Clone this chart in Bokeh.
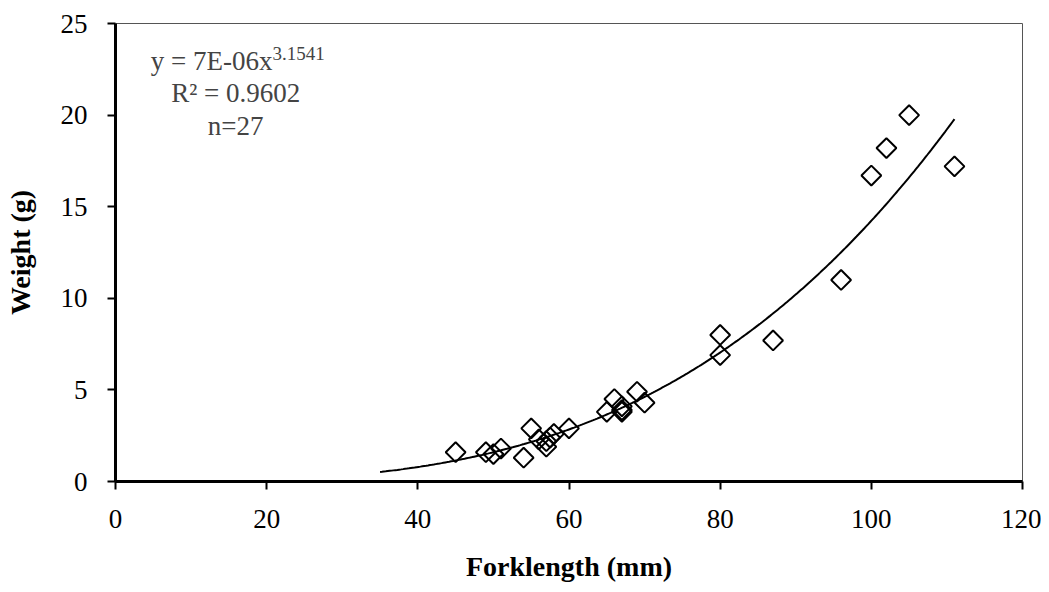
import math
from bokeh.plotting import figure
from bokeh.models import Range1d, Label, FixedTicker
from bokeh.embed import file_html
from bokeh.resources import INLINE

# Data
forklength = [45, 49, 50, 51, 54, 55, 56, 57, 57, 57.5, 58, 60,
              65, 66, 67, 67, 67, 69, 70, 80, 80, 87, 96, 100, 102, 105, 111]
weight = [1.6, 1.6, 1.5, 1.8, 1.3, 2.9, 2.3, 1.9, 2.2, 2.4, 2.6, 2.9,
          3.8, 4.5, 4.1, 3.9, 3.8, 4.9, 4.3, 8.0, 6.9, 7.7, 11.0, 16.7, 18.2, 20.0, 17.2]

# Power trendline shown on the chart: y = 7E-06 x^3.1541
trend_a = 7e-06
trend_b = 3.1541
trend_x_start = 35
trend_x_end = 111

x_ticks = [0, 20, 40, 60, 80, 100, 120]
y_ticks = [0, 5, 10, 15, 20, 25]

FONT = "Liberation Serif"

p = figure(width=1041, height=584, output_backend="svg", toolbar_location=None,
           x_range=Range1d(0, 120), y_range=Range1d(0, 25),
           min_border_left=115, min_border_right=19,
           min_border_top=23, min_border_bottom=103)

p.xgrid.visible = False
p.ygrid.visible = False
p.outline_line_color = "#555555"
p.outline_line_width = 1

# trendline
n = 300
tx = [trend_x_start + (trend_x_end - trend_x_start) * i / (n - 1) for i in range(n)]
ty = [trend_a * v ** trend_b for v in tx]
p.line(tx, ty, line_color="black", line_width=2)

# points
p.scatter(forklength, weight, marker="square", angle=math.pi / 4, size=14,
          fill_color=None, line_color="black", line_width=2)

for ax in (p.xaxis[0], p.yaxis[0]):
    ax.axis_line_width = 3
    ax.axis_line_color = "black"
    ax.major_tick_line_color = "black"
    ax.major_tick_line_width = 2
    ax.major_tick_out = 8
    ax.major_tick_in = 0
    ax.minor_tick_line_color = None
    ax.major_label_text_font = FONT
    ax.major_label_text_font_size = "27px"
    ax.major_label_text_color = "black"
    ax.axis_label_text_font = FONT
    ax.axis_label_text_font_size = "28px"
    ax.axis_label_text_font_style = "bold"
    ax.axis_label_text_color = "black"

p.xaxis.ticker = FixedTicker(ticks=x_ticks)
p.yaxis.ticker = FixedTicker(ticks=y_ticks)
p.xaxis.major_label_standoff = 20
p.yaxis.major_label_standoff = 20
p.xaxis.axis_label = "Forklength (mm)"
p.xaxis.axis_label_standoff = 20
p.yaxis.axis_label = "Weight (g)"
p.yaxis.axis_label_standoff = 22

# annotation
p.add_layout(Label(x=20.77, y=22.93, text="y = 7E-06x", text_font=FONT,
                   text_font_size="27px", text_baseline="middle", text_align="right"))
p.add_layout(Label(x=20.77, y=23.35, text="3.1541", text_font=FONT,
                   text_font_size="19px", text_baseline="middle", text_align="left"))
p.add_layout(Label(x=15.9, y=21.2, text="R² = 0.9602", text_font=FONT,
                   text_font_size="27px", text_baseline="middle", text_align="center"))
p.add_layout(Label(x=15.9, y=19.42, text="n=27", text_font=FONT,
                   text_font_size="27px", text_baseline="middle", text_align="center"))

open("out.html", "w").write(file_html(p, INLINE))
